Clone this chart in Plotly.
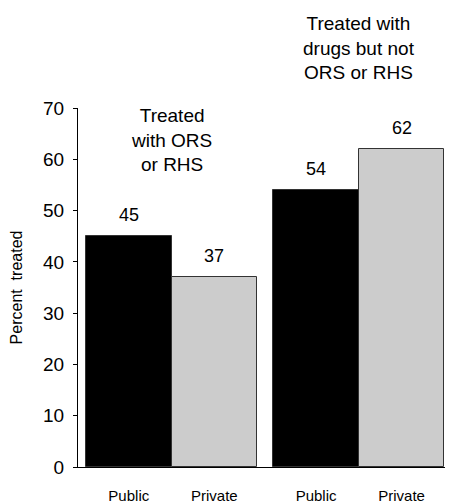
import plotly.graph_objects as go

groups = ["Treated<br>with ORS<br>or RHS", "Treated with<br>drugs but not<br>ORS or RHS"]
sectors = ["Public", "Private"]
values = {
    "Public": [45, 54],
    "Private": [37, 62],
}
colors = {"Public": "#000000", "Private": "#cccccc"}
y_ticks = [0, 10, 20, 30, 40, 50, 60, 70]

GAP = 0.19  # gap between groups, in bar widths
FONT = "Liberation Sans, Arial, sans-serif"

def pos(g, s):
    return g * (len(sectors) + GAP) + s + 0.5

fig = go.Figure()
tickvals, ticktext = [], []
for si, s in enumerate(sectors):
    xs = [pos(gi, si) for gi in range(len(groups))]
    fig.add_trace(go.Bar(
        x=xs, y=values[s], width=1, name=s,
        marker=dict(color=colors[s], line=dict(color="#333333", width=1)),
        showlegend=False,
    ))
    for gi, v in enumerate(values[s]):
        fig.add_annotation(x=xs[gi], y=v, text=str(v), showarrow=False,
                           yshift=21, font=dict(size=18, color="black", family=FONT))
    tickvals += xs
    ticktext += [s] * len(xs)

# group labels (paper coordinates, vertical centre of the text block)
group_label_y = [0.911, 1.167]
for gi, g in enumerate(groups):
    center = (pos(gi, 0) + pos(gi, len(sectors) - 1)) / 2
    fig.add_annotation(x=center, xref="x", y=group_label_y[gi], yref="paper",
                       text=g, showarrow=False, yanchor="middle",
                       font=dict(size=19, color="black", family=FONT))

fig.update_layout(
    width=445, height=496,
    margin=dict(l=70, r=1, t=100, b=37),
    plot_bgcolor="white", paper_bgcolor="white",
    font=dict(family=FONT, color="black", size=16),
    bargap=0,
)
fig.update_xaxes(
    range=[-0.094, 4.28], tickvals=tickvals, ticktext=ticktext,
    showline=True, linecolor="black", linewidth=1, showgrid=False, zeroline=False,
    ticks="", tickfont=dict(size=15), ticklabelstandoff=15, automargin=False,
)
fig.update_yaxes(
    range=[0, 70], tickvals=y_ticks, showline=True, linecolor="black", linewidth=1,
    showgrid=False, zeroline=False, ticks="outside", ticklen=4, tickcolor="black",
    tickfont=dict(size=19), ticklabelstandoff=5, automargin=False,
    title=dict(text="Percent  treated", font=dict(size=16), standoff=21),
)
fig.write_html("out.html")
